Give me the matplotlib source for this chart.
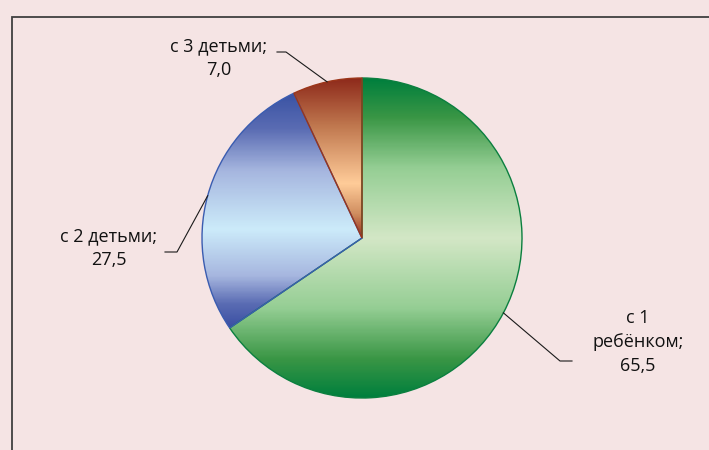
import numpy as np
import matplotlib
matplotlib.use("Agg")
import matplotlib.pyplot as plt
from matplotlib.colors import LinearSegmentedColormap
from matplotlib.patches import Rectangle

# данные
categories = ['с 1 ребёнком', 'с 2 детьми', 'с 3 детьми']
values = [65.5, 27.5, 7.0]
label_texts = ['с 1\nребёнком;\n65,5', 'с 2 детьми;\n27,5', 'с 3 детьми;\n7,0']

# оформление (пиксельные координаты, y вверх)
W, H = 709, 450
center = (362, 212)
radius = 160
label_pos = [(638, 108), (109, 202), (219, 392)]
elbows = [((560, 89), (572, 89)), ((177, 198), (165, 198)), ((286, 398), (277, 398))]
edge_colors = ['#0B7F3F', '#3A5CB0', '#9C3519']
gradients = [
    [(0, '#007F3D'), (0.12, '#3A9645'), (0.28, '#95CE94'), (0.5, '#D3E7C6'),
     (0.72, '#95CE94'), (0.88, '#3A9645'), (1, '#007F3D')],
    [(0, '#3A53A4'), (0.15, '#5A6CB3'), (0.33, '#A6B6DF'), (0.58, '#CCEBFA'),
     (0.78, '#A6B6DF'), (0.9, '#5A6CB3'), (1, '#3A4FA3')],
    [(0, '#8E2A1B'), (0.3, '#C0784F'), (0.66, '#FFCC99'), (0.85, '#D08E60'),
     (1, '#962F18')],
]

plt.rcParams['font.family'] = ['Open Sans', 'DejaVu Sans']

fig = plt.figure(figsize=(W / 100, H / 100), dpi=100)
fig.patch.set_facecolor('#F5E4E4')
ax = fig.add_axes([0, 0, 1, 1])

wedges, _ = ax.pie(values, startangle=90, counterclock=False,
                   center=center, radius=radius, colors=['none'] * 3)

for w, ec, stops in zip(wedges, edge_colors, gradients):
    w.set_facecolor('none')
    w.set_edgecolor(ec)
    w.set_linewidth(1.0)
    w.set_zorder(3)
    bb = w.get_path().get_extents()
    cmap = LinearSegmentedColormap.from_list('g', stops)
    grad = np.linspace(0, 1, 300).reshape(-1, 1)
    im = ax.imshow(cmap(grad), extent=[bb.x0, bb.x1, bb.y0, bb.y1],
                   origin='upper', aspect='auto', zorder=2, interpolation='bilinear')
    im.set_clip_path(w)

# подписи с выносками
for w, txt, pos, (elb, end) in zip(wedges, label_texts, label_pos, elbows):
    ang = np.deg2rad((w.theta1 + w.theta2) / 2)
    px = center[0] + radius * np.cos(ang)
    py = center[1] + radius * np.sin(ang)
    ax.plot([px, elb[0], end[0]], [py, elb[1], end[1]], color='#1A1A1A', lw=0.8, zorder=4)
    ax.text(pos[0], pos[1], txt, ha='center', va='center', fontsize=13,
            linespacing=1.4, color='#111111', zorder=5)

ax.add_patch(Rectangle((12, -20), W, H - 17 + 20, fill=False, edgecolor='#404040',
                       lw=1.3, clip_on=False, zorder=6))

ax.set_xlim(0, W)
ax.set_ylim(0, H)
ax.set_aspect('equal')
ax.axis('off')

fig.savefig('out.png', dpi=100, facecolor=fig.get_facecolor())
